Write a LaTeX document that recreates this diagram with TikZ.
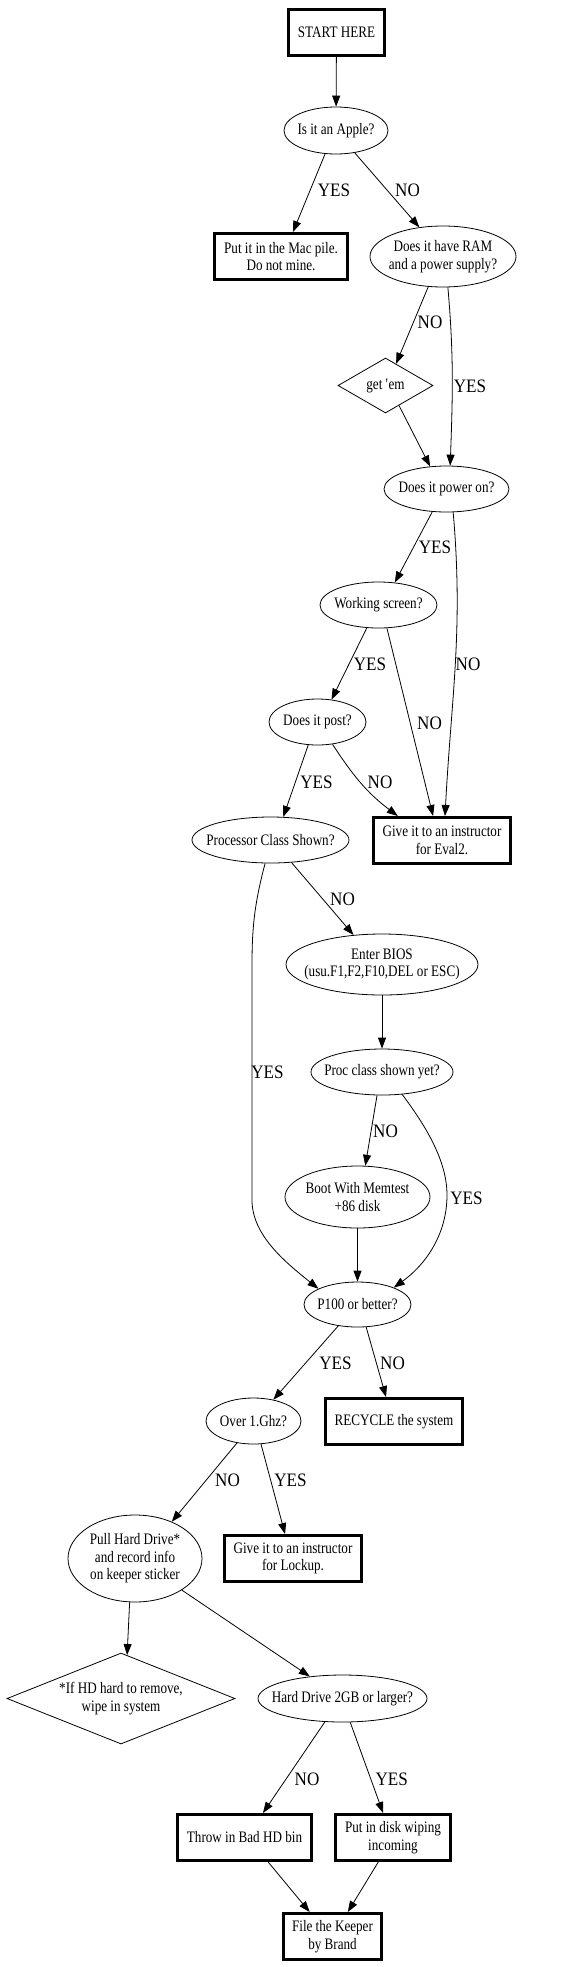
\documentclass[tikz,border=0pt]{standalone}
\usepackage{fontspec}
\setmainfont{Liberation Serif}
\newfontfamily\nodefnt[FakeStretch=0.82]{Liberation Serif}
\newfontfamily\labfnt[FakeStretch=0.9]{Liberation Serif}
\usetikzlibrary{shapes.geometric,arrows.meta}
\tikzset{
 box/.style={draw, rectangle, line width=3pt, inner sep=0pt, minimum height=46pt, align=center, font=\nodefnt\fontsize{16pt}{17.5pt}\selectfont},
 ell/.style={draw, ellipse, line width=0.8pt, inner sep=0pt},
 dia/.style={draw, diamond, line width=0.8pt, inner sep=0pt},
 ntext/.style={align=center, inner sep=0pt, font=\nodefnt\fontsize{16pt}{17.5pt}\selectfont},
 elab/.style={inner sep=0pt, font=\labfnt\fontsize{19pt}{21pt}\selectfont},
 edge/.style={draw, line width=0.8pt, -{Triangle[length=11pt,width=8pt]}},
}
\begin{document}
\begin{tikzpicture}[x=1pt,y=-1pt]
\fill[white] (0,0) rectangle (582,1967);
\useasboundingbox (0,0) rectangle (582,1967);

% nodes
\node[box, minimum width=96pt] (start) at (336.5,32.5) {START HERE};
\node[ell, minimum width=104pt, minimum height=47pt, label={[ntext]center:{Is it an Apple?}}] (apple) at (336,130.5) {};
\node[box, minimum width=133pt] (mac) at (281,256.5) {Put it in the Mac pile.\\Do not mine.};
\node[ell, minimum width=146pt, minimum height=61pt, label={[ntext]center:{Does it have RAM\\and a power supply?}}] (ram) at (443,256.5) {};
\node[dia, minimum width=95pt, minimum height=55pt, label={[ntext]center:{get \textquotesingle em}}] (getem) at (385.5,385.5) {};
\node[ell, minimum width=125pt, minimum height=46pt, label={[ntext]center:{Does it power on?}}] (power) at (446.5,489) {};
\node[ell, minimum width=117pt, minimum height=46pt, label={[ntext]center:{Working screen?}}] (screen) at (378.5,605) {};
\node[ell, minimum width=97pt, minimum height=46pt, label={[ntext]center:{Does it post?}}] (post) at (317.5,722) {};
\node[box, minimum width=137pt] (eval2) at (442,840.5) {Give it to an instructor\\for Eval2.};
\node[ell, minimum width=157pt, minimum height=46pt, label={[ntext]center:{Processor Class Shown?}}] (proc) at (270.5,840) {};
\node[ell, minimum width=192pt, minimum height=61pt, label={[ntext]center:{Enter BIOS\\(usu.F1,F2,F10,DEL or ESC)}}] (bios) at (382,964.5) {};
\node[ell, minimum width=142pt, minimum height=46pt, label={[ntext]center:{Proc class shown yet?}}] (procyet) at (382,1072) {};
\node[ell, minimum width=145pt, minimum height=62pt, label={[ntext]center:{Boot With Memtest\\+86 disk}}] (memtest) at (357.5,1197) {};
\node[ell, minimum width=107pt, minimum height=45pt, label={[ntext]center:{P100 or better?}}] (p100) at (357.5,1304.5) {};
\node[box, minimum width=137pt] (recycle) at (394,1421.5) {RECYCLE the system};
\node[ell, minimum width=95pt, minimum height=46pt, label={[ntext]center:{Over 1.Ghz?}}] (ghz) at (253.5,1421) {};
\node[ell, minimum width=134pt, minimum height=87pt, label={[ntext]center:{Pull Hard Drive*\\and record info\\on keeper sticker}}] (pull) at (135,1558.5) {};
\node[box, minimum width=137pt] (lockup) at (293,1558.5) {Give it to an instructor\\for Lockup.};
\node[dia, minimum width=228pt, minimum height=91pt, label={[ntext]center:{*If HD hard to remove,\\wipe in system}}] (hdnote) at (121,1698.5) {};
\node[ell, minimum width=169pt, minimum height=47pt, label={[ntext]center:{Hard Drive 2GB or larger?}}] (hd2gb) at (342.5,1698.5) {};
\node[box, minimum width=134pt] (throw) at (244.5,1837.5) {Throw in Bad HD bin};
\node[box, minimum width=115pt] (wipe) at (393,1837.5) {Put in disk wiping\\incoming};
\node[box, minimum width=98pt] (file) at (332.5,1936.5) {File the Keeper\\by Brand};

% edges
\draw[edge] (start) -- (apple);
\draw[edge] (apple.-115) -- (mac.64);
\draw[edge] (apple.-50) -- (ram.129);
\draw[edge] (ram.-116) -- (getem.64);
\draw[edge] (ram.-81) to[out=-85,in=88] (power.81);
\draw[edge] (getem.-56) -- (power.126);
\draw[edge] (power.-122) -- (screen.54);
\draw[edge] (power.-74) to[out=-85,in=87] (eval2.83);
\draw[edge] (screen.-117) -- (post.58);
\draw[edge] (screen.-70) -- (eval2.110);
\draw[edge] (post.-112) -- (proc.61);
\draw[edge] (post.-56) to[out=-57,in=143] (eval2.151);
\draw[edge] (proc.-47) -- (bios.134);
\draw[edge] (proc.-103) .. controls (254,905) and (252,930) .. (252,965) -- (252,1200) .. controls (252,1235) and (285,1262) .. (p100.158);
\draw[edge] (bios) -- (procyet);
\draw[edge] (procyet.-102) -- (memtest.76);
\draw[edge] (procyet.-48) .. controls (425,1125) and (447,1160) .. (447,1195) .. controls (447,1235) and (425,1265) .. (p100.25);
\draw[edge] (memtest) -- (p100);
\draw[edge] (p100.-132) -- (ghz.47);
\draw[edge] (p100.-69) -- (recycle.108);
\draw[edge] (ghz.-127) -- (pull.45);
\draw[edge] (ghz.-72) -- (lockup.108);
\draw[edge] (pull.-97) -- (hdnote.82);
\draw[edge] (pull.-34) -- (hd2gb.146);
\draw[edge] (hd2gb.-127) -- (throw.53);
\draw[edge] (hd2gb.-72) -- (wipe.112);
\draw[edge] (throw.-46) -- (file.133);
\draw[edge] (wipe.-121) -- (file.58);

% edge labels
\node[elab] (l1) at (334,190) {YES};
\node[elab] (l2) at (407.5,190) {NO};
\node[elab] (l3) at (430,322) {NO};
\node[elab] (l4) at (470,386) {YES};
\node[elab] (l5) at (435,547) {YES};
\node[elab] (l6) at (468,664) {NO};
\node[elab] (l7) at (370,664) {YES};
\node[elab] (l8) at (429.5,723) {NO};
\node[elab] (l9) at (316.5,782) {YES};
\node[elab] (l10) at (380,782) {NO};
\node[elab] (l11) at (342.5,899) {NO};
\node[elab] (l12) at (267.5,1072) {YES};
\node[elab] (l13) at (385.5,1131) {NO};
\node[elab] (l14) at (466.5,1198) {YES};
\node[elab] (l15) at (335.5,1363) {YES};
\node[elab] (l16) at (392.5,1363) {NO};
\node[elab] (l17) at (227.5,1480) {NO};
\node[elab] (l18) at (290.5,1480) {YES};
\node[elab] (l19) at (307,1779.5) {NO};
\node[elab] (l20) at (391.7,1779.5) {YES};
\end{tikzpicture}
\end{document}
